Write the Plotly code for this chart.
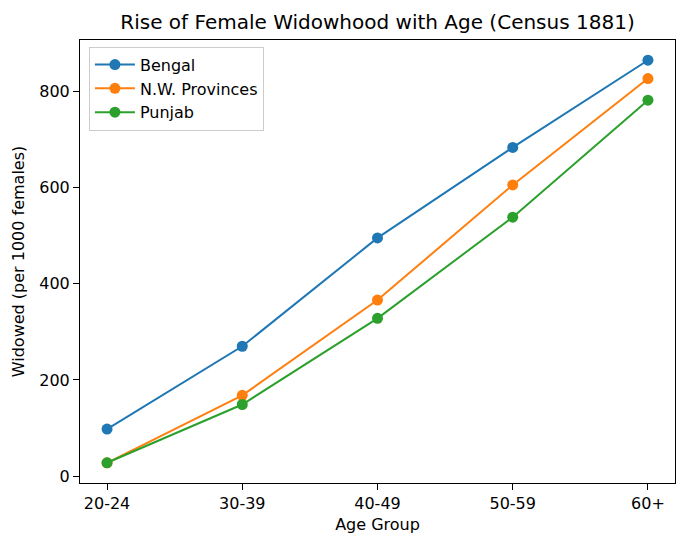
import plotly.graph_objects as go

age_groups = ["20-24", "30-39", "40-49", "50-59", "60+"]
bengal = [98, 270, 495, 683, 864]
nw_provinces = [28, 168, 366, 605, 826]
punjab = [28, 149, 328, 538, 781]

series = [
    ("Bengal", bengal, "#1f77b4"),
    ("N.W. Provinces", nw_provinces, "#ff7f0e"),
    ("Punjab", punjab, "#2ca02c"),
]

fig = go.Figure()
for name, vals, col in series:
    fig.add_trace(go.Scatter(
        x=list(range(len(age_groups))), y=vals, name=name,
        mode="lines+markers",
        line=dict(color=col, width=2),
        marker=dict(color=col, size=11),
    ))

axis_style = dict(
    showline=True, linecolor="black", linewidth=1, mirror=True,
    ticks="outside", ticklen=6, tickcolor="black",
    showgrid=False, zeroline=False,
    tickfont=dict(size=16, color="black"),
)

# page has an 8px body margin, so the figure is sized a little under the window
fig.update_layout(
    width=677, height=538,
    margin=dict(l=72, r=10, t=32, b=63),
    paper_bgcolor="white", plot_bgcolor="white",
    font=dict(family="DejaVu Sans", color="black"),
    title=dict(text="Rise of Female Widowhood with Age (Census 1881)",
               xref="paper", x=0.5, xanchor="center", y=0.974, yanchor="middle",
               font=dict(size=20)),
    xaxis=dict(axis_style, tickmode="array",
               tickvals=list(range(len(age_groups))), ticktext=age_groups,
               range=[-0.2, 4.2],
               title=dict(text="Age Group", font=dict(size=16), standoff=6)),
    yaxis=dict(axis_style, range=[-14, 906], tickvals=[0, 200, 400, 600, 800],
               title=dict(text="Widowed (per 1000 females)", font=dict(size=16), standoff=10)),
    legend=dict(x=0.015, y=0.985, xanchor="left", yanchor="top",
                bordercolor="#cccccc", borderwidth=1, bgcolor="white",
                itemwidth=40, font=dict(size=16)),
)

fig.write_html("out.html")
